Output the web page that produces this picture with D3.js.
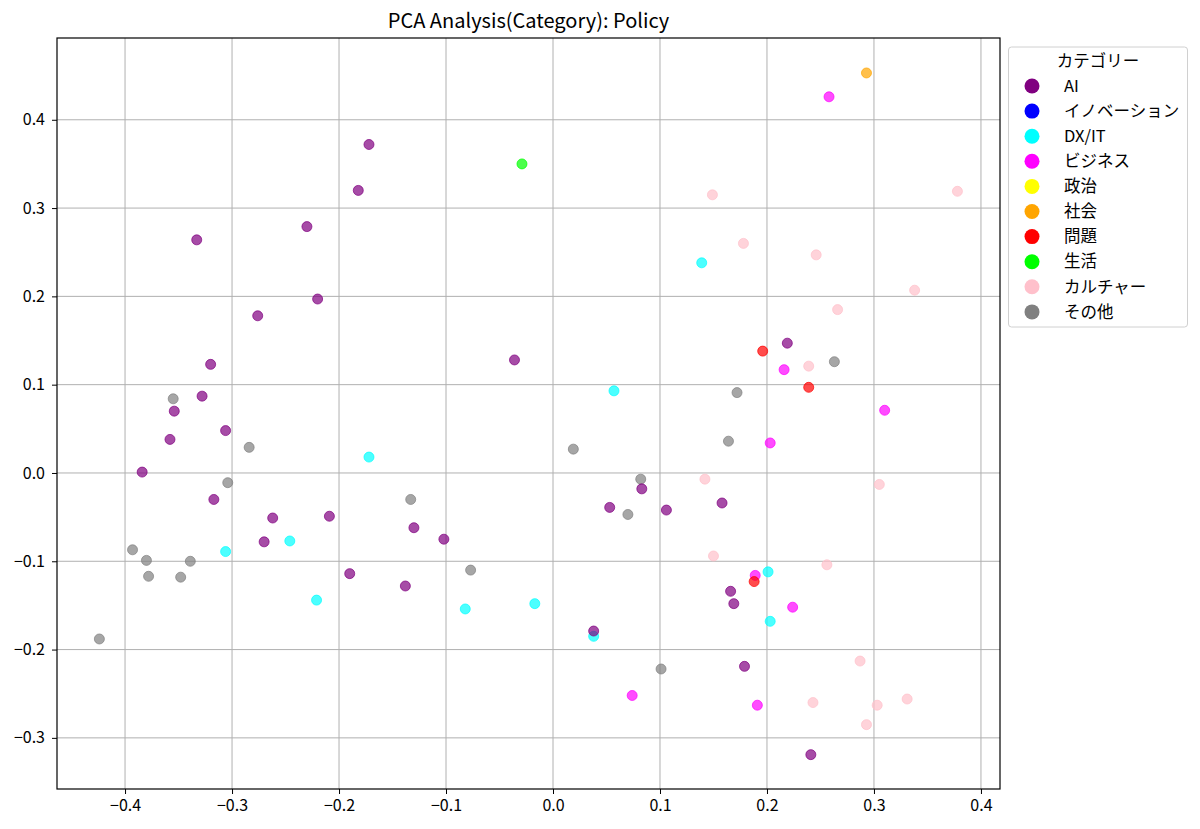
<!DOCTYPE html>
<html>
<head>
<meta charset="utf-8">
<script src="https://cdn.jsdelivr.net/npm/d3@7"></script>
<style>
  body { margin: 0; background: #fff; }
  svg { font-family: "Noto Sans CJK JP", "Noto Sans", sans-serif; }
</style>
</head>
<body>
<div id="chart"></div>
<script>
// categories in legend order and their colours
const categories = ['AI', 'イノベーション', 'DX/IT', 'ビジネス', '政治', '社会', '問題', '生活', 'カルチャー', 'その他'];
const categoryColors = ['#800080', '#0000ff', '#00ffff', '#ff00ff', '#ffff00', '#ffa500', '#ff0000', '#00ff00', '#ffc0cb', '#808080'];

// PCA coordinates [pc1, pc2] per category
const aiPoints = [
  [-0.172, 0.372], [-0.182, 0.320], [-0.333, 0.264], [-0.230, 0.279], [-0.220, 0.197],
  [-0.276, 0.178], [-0.320, 0.123], [-0.328, 0.087], [-0.354, 0.070], [-0.358, 0.038],
  [-0.306, 0.048], [-0.384, 0.001], [-0.317, -0.030], [-0.262, -0.051], [-0.209, -0.049],
  [-0.270, -0.078], [-0.190, -0.114], [-0.036, 0.128], [0.219, 0.147], [0.083, -0.018],
  [0.053, -0.039], [0.106, -0.042], [0.158, -0.034], [-0.130, -0.062], [-0.102, -0.075],
  [-0.138, -0.128], [0.038, -0.179], [0.166, -0.134], [0.169, -0.148], [0.179, -0.219],
  [0.241, -0.319]
];
const innovationPoints = [];
const dxPoints = [
  [-0.172, 0.018], [-0.246, -0.077], [-0.306, -0.089], [-0.221, -0.144], [0.057, 0.093],
  [-0.082, -0.154], [-0.017, -0.148], [0.038, -0.185], [0.201, -0.112], [0.203, -0.168],
  [0.139, 0.238]
];
const businessPoints = [
  [0.258, 0.426], [0.216, 0.117], [0.203, 0.034], [0.310, 0.071], [0.189, -0.116],
  [0.224, -0.152], [0.074, -0.252], [0.191, -0.263]
];
const politicsPoints = [];
const societyPoints = [[0.293, 0.453]];
const problemPoints = [[0.196, 0.138], [0.239, 0.097], [0.188, -0.123]];
const lifePoints = [[-0.029, 0.350]];
const culturePoints = [
  [0.149, 0.315], [0.378, 0.319], [0.178, 0.260], [0.246, 0.247], [0.338, 0.207],
  [0.266, 0.185], [0.239, 0.121], [0.142, -0.007], [0.305, -0.013], [0.150, -0.094],
  [0.256, -0.104], [0.287, -0.213], [0.243, -0.260], [0.303, -0.263], [0.331, -0.256],
  [0.293, -0.285]
];
const otherPoints = [
  [-0.355, 0.084], [-0.284, 0.029], [-0.304, -0.011], [-0.393, -0.087], [-0.380, -0.099],
  [-0.378, -0.117], [-0.339, -0.100], [-0.348, -0.118], [-0.424, -0.188], [-0.133, -0.030],
  [-0.077, -0.110], [0.019, 0.027], [0.082, -0.007], [0.070, -0.047], [0.172, 0.091],
  [0.164, 0.036], [0.263, 0.126], [0.101, -0.222]
];
const pointsByCategory = [aiPoints, innovationPoints, dxPoints, businessPoints, politicsPoints,
  societyPoints, problemPoints, lifePoints, culturePoints, otherPoints];

// order the groups are drawn in (later on top)
const drawOrder = ['その他', 'カルチャー', 'DX/IT', 'AI', 'イノベーション', 'ビジネス', '政治', '社会', '問題', '生活'];

const xTicks = [-0.4, -0.3, -0.2, -0.1, 0.0, 0.1, 0.2, 0.3, 0.4];
const yTicks = [-0.3, -0.2, -0.1, 0.0, 0.1, 0.2, 0.3, 0.4];
const xDomain = [-0.4636, 0.4178];
const yDomain = [-0.3579, 0.4926];

const width = 1200;
const height = 829;
const margin = { top: 38, right: 200, bottom: 40, left: 57 };
const plotW = 943;
const plotH = 751;

const svg = d3.select('#chart')
  .append('svg')
  .attr('width', width)
  .attr('height', height);

const x = d3.scaleLinear().domain(xDomain).range([margin.left, margin.left + plotW]);
const y = d3.scaleLinear().domain(yDomain).range([margin.top + plotH, margin.top]);

const fmt = d => d3.format('.1f')(d).replace('-', '\u2212');

// grid
const grid = svg.append('g').attr('class', 'grid');
grid.selectAll('.vx')
  .data(xTicks)
  .join('line')
    .attr('x1', d => x(d)).attr('x2', d => x(d))
    .attr('y1', margin.top).attr('y2', margin.top + plotH)
    .attr('stroke', '#b0b0b0').attr('stroke-width', 1);
grid.selectAll('.hy')
  .data(yTicks)
  .join('line')
    .attr('x1', margin.left).attr('x2', margin.left + plotW)
    .attr('y1', d => y(d)).attr('y2', d => y(d))
    .attr('stroke', '#b0b0b0').attr('stroke-width', 1);

// points
const table = categories.flatMap((c, i) =>
  pointsByCategory[i].map(p => ({ cat: c, color: categoryColors[i], px: p[0], py: p[1] })));
table.sort((a, b) => drawOrder.indexOf(a.cat) - drawOrder.indexOf(b.cat));

svg.append('g')
  .attr('class', 'points')
  .selectAll('circle')
  .data(table)
  .join('circle')
    .attr('cx', d => x(d.px))
    .attr('cy', d => y(d.py))
    .attr('r', 5)
    .attr('fill', d => d.color)
    .attr('fill-opacity', 0.7)
    .attr('stroke', d => d.color)
    .attr('stroke-opacity', 0.7)
    .attr('stroke-width', 1);

// axes
const xAxis = d3.axisBottom(x).tickValues(xTicks).tickFormat(fmt).tickSizeOuter(0).tickSize(5).tickPadding(6);
const yAxis = d3.axisLeft(y).tickValues(yTicks).tickFormat(fmt).tickSizeOuter(0).tickSize(5).tickPadding(7);

svg.append('g')
  .attr('transform', `translate(0,${margin.top + plotH})`)
  .call(xAxis)
  .call(g => g.select('.domain').remove())
  .call(g => g.selectAll('text').attr('font-size', 16).attr('fill', '#000').attr('font-family', '"Noto Sans CJK JP", sans-serif'));

svg.append('g')
  .attr('transform', `translate(${margin.left},0)`)
  .call(yAxis)
  .call(g => g.select('.domain').remove())
  .call(g => g.selectAll('text').attr('font-size', 16).attr('fill', '#000').attr('font-family', '"Noto Sans CJK JP", sans-serif'));

// frame
svg.append('rect')
  .attr('x', margin.left).attr('y', margin.top)
  .attr('width', plotW).attr('height', plotH)
  .attr('fill', 'none').attr('stroke', '#000').attr('stroke-width', 1.2);

// title
svg.append('text')
  .attr('x', margin.left + plotW / 2)
  .attr('y', 28)
  .attr('text-anchor', 'middle')
  .attr('font-size', 20)
  .text('PCA Analysis(Category): Policy');

// legend
const legend = svg.append('g').attr('class', 'legend');
legend.append('rect')
  .attr('x', 1008.5).attr('y', 47)
  .attr('width', 179).attr('height', 280)
  .attr('rx', 3)
  .attr('fill', '#fff')
  .attr('stroke', '#d0d0d0');
legend.append('text')
  .attr('x', 1098).attr('y', 61)
  .attr('dy', '0.35em')
  .attr('text-anchor', 'middle')
  .attr('font-size', 16.5)
  .text('カテゴリー');
const rows = legend.selectAll('.row')
  .data(categories)
  .join('g')
    .attr('class', 'row')
    .attr('transform', (d, i) => `translate(0,${86 + i * 25.1})`);
rows.append('circle')
  .attr('cx', 1032).attr('cy', 0).attr('r', 7.5)
  .attr('fill', (d, i) => categoryColors[i]);
rows.append('text')
  .attr('x', 1064).attr('y', 0)
  .attr('dy', '0.35em')
  .attr('font-size', 16.5)
  .text(d => d);
</script>
</body>
</html>
